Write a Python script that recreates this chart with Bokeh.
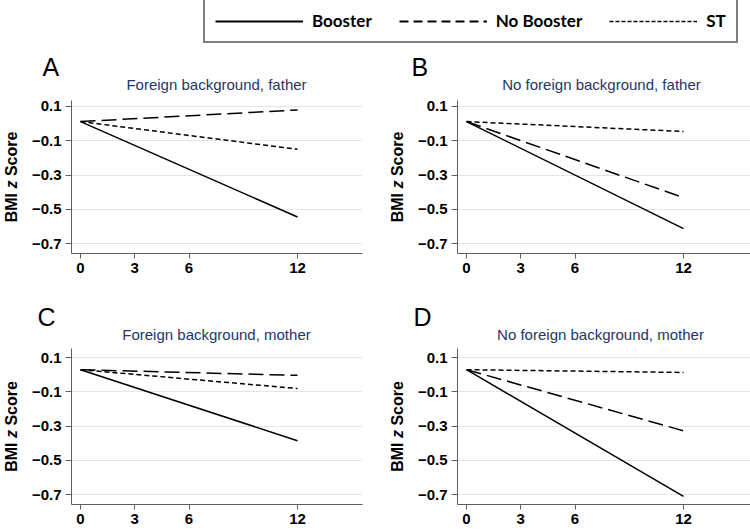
import math
from bokeh.plotting import figure
from bokeh.models import Range1d, FixedTicker, Label, Legend, LegendItem
from bokeh.layouts import column, row
from bokeh.embed import file_html
from bokeh.resources import INLINE

# ---------------- data ----------------
months = [0, 12]
x_ticks = [0, 3, 6, 12]
y_ticks = [0.1, -0.1, -0.3, -0.5, -0.7]
y_tick_labels = ["0.1", "\u22120.1", "\u22120.3", "\u22120.5", "\u22120.7"]
series_names = ["Booster", "No Booster", "ST"]

panel_letters = ["A", "B", "C", "D"]
panel_titles = [
    "Foreign background, father",
    "No foreign background, father",
    "Foreign background, mother",
    "No foreign background, mother",
]

a_booster = [0.012, -0.545]
a_no_booster = [0.012, 0.080]
a_st = [0.012, -0.150]

b_booster = [0.012, -0.613]
b_no_booster = [0.012, -0.432]
b_st = [0.012, -0.046]

c_booster = [0.030, -0.385]
c_no_booster = [0.030, -0.003]
c_st = [0.030, -0.080]

d_booster = [0.030, -0.711]
d_no_booster = [0.030, -0.327]
d_st = [0.030, 0.014]

panel_series = [
    (a_booster, a_no_booster, a_st),
    (b_booster, b_no_booster, b_st),
    (c_booster, c_no_booster, c_st),
    (d_booster, d_no_booster, d_st),
]

# ---------------- styles ----------------
AXIS_COLOR = "#5e5e5e"
GRID_COLOR = "#dfe7ec"
TITLE_COLOR = "#243668"
FONT = "Liberation Sans"
PX_PER_X = 18.08
MID = 0.3465  # distance (in em) from the text-box centre up to the baseline


def blank_fig(w, h):
    f = figure(width=w, height=h, x_range=Range1d(0, 1), y_range=Range1d(0, 1),
               output_backend="svg", toolbar_location=None, tools="", title=None,
               min_border=0, x_axis_location=None, y_axis_location=None,
               outline_line_color=None, background_fill_color="white",
               border_fill_color="white")
    f.grid.visible = False
    return f


def make_panel(idx, width, ylab_w, ylab_x, head_h, letter_x, letter_base, sub_x, sub_base,
               b_left, b_right, b_top, frame_h, b_bottom, y_lo, y_hi):
    plot_w = width - ylab_w
    frame_w = plot_w - b_left - b_right
    x_hi = -0.5 + frame_w / PX_PER_X
    plot_h = b_top + frame_h + b_bottom
    p = figure(width=plot_w, height=plot_h,
               x_range=Range1d(-0.5, x_hi), y_range=Range1d(y_lo, y_hi),
               output_backend="svg", toolbar_location=None, tools="", title=None,
               min_border_left=b_left, min_border_right=b_right,
               min_border_top=b_top, min_border_bottom=b_bottom,
               background_fill_color="white", border_fill_color="white",
               outline_line_color=None)
    for ax in (p.xaxis[0], p.yaxis[0]):
        ax.axis_line_color = AXIS_COLOR
        ax.axis_line_width = 1
        ax.major_tick_line_color = AXIS_COLOR
        ax.major_tick_in = 0
        ax.minor_tick_line_color = None
        ax.major_label_text_font = FONT
        ax.major_label_text_font_size = "15px"
        ax.major_label_text_font_style = "bold"
        ax.major_label_text_color = "black"
    p.xaxis.ticker = FixedTicker(ticks=x_ticks)
    p.xaxis.major_tick_out = 5
    p.xaxis.major_label_standoff = 4
    p.yaxis.ticker = FixedTicker(ticks=y_ticks)
    p.yaxis.major_tick_out = 6
    p.yaxis.major_label_standoff = 4
    p.yaxis.major_label_overrides = dict(zip(y_ticks, y_tick_labels))
    p.xgrid.visible = False
    p.ygrid.grid_line_color = GRID_COLOR
    p.ygrid.grid_line_width = 1

    booster, no_booster, st = panel_series[idx]
    p.line(months, booster, line_color="black", line_width=1.5)
    p.line(months, no_booster, line_color="black", line_width=1.5, line_dash="15 6")
    p.line(months, st, line_color="black", line_width=1.5, line_dash="5 3")

    # header: panel letter + subtitle (positions given as baseline distance from header bottom)
    head = blank_fig(width, head_h)
    head.add_layout(Label(x=letter_x, y=letter_base + MID * 25, x_units="screen", y_units="screen",
                          text=panel_letters[idx], text_font=FONT, text_font_size="25px",
                          text_color="black", text_baseline="middle", text_align="left"))
    head.add_layout(Label(x=sub_x, y=sub_base + MID * 15, x_units="screen", y_units="screen",
                          text=panel_titles[idx], text_font=FONT, text_font_size="15px",
                          text_color=TITLE_COLOR, text_baseline="middle", text_align="center"))

    # y axis title "BMI z Score" with italic z (its frame is aligned with the plot frame)
    ylab = blank_fig(ylab_w, plot_h)
    fs = 16
    sp = 0.278 * fs
    w1 = (0.722 + 0.833 + 0.278) * fs
    w2 = 0.5 * fs
    w3 = (0.667 + 0.556 + 0.611 + 0.389 + 0.556) * fs
    start = frame_h / 2 - (w1 + w2 + w3 + 2 * sp) / 2
    pieces = [("BMI", start, "bold"), ("z", start + w1 + sp, "bold italic"),
              ("Score", start + w1 + sp + w2 + sp, "bold")]
    for txt, yy, style in pieces:
        ylab.add_layout(Label(x=ylab_x, y=yy, x_units="screen", y_units="screen", text=txt,
                              angle=math.pi / 2, text_font=FONT, text_font_size=f"{fs}px",
                              text_font_style=style, text_color="black",
                              text_align="left", text_baseline="middle"))
    return column(head, row(ylab, p))


# row 1: header 46..94, plot figure 94..290 (frame 100..253)
pA = make_panel(0, 380, 22, 11, 48, 42, 19, 216, 5, 49, 18, 6, 153, 37, -0.758, 0.135)
pB = make_panel(1, 370, 30, 17, 48, 31, 19, 221, 5, 47, 0, 6, 153, 37, -0.758, 0.135)
# row 2: header 290..344, plot figure 344..530 (frame 348..504)
pC = make_panel(2, 380, 22, 11, 54, 37, 19, 216, 5, 49, 18, 4, 156, 26, -0.758, 0.154)
pD = make_panel(3, 370, 30, 17, 54, 33, 19, 220, 5, 47, 0, 4, 156, 26, -0.758, 0.154)

# ---------------- legend strip ----------------
leg = blank_fig(750, 46)
# proxy renderers for the legend keys, placed outside the visible range
r1 = leg.line(x=[2, 3], y=[2, 2], line_color="black", line_width=2)
r2 = leg.line(x=[2, 3], y=[2, 2], line_color="black", line_width=2, line_dash="9 5")
r3 = leg.line(x=[2, 3], y=[2, 2], line_color="black", line_width=1.5, line_dash="4 2")
legend = Legend(items=[LegendItem(label=n, renderers=[r]) for n, r in zip(series_names, [r1, r2, r3])],
                orientation="horizontal", location=(203, 3),
                border_line_color="black", border_line_width=2,
                background_fill_color="white", background_fill_alpha=1,
                padding=10, spacing=27, margin=0,
                glyph_width=88, glyph_height=20, label_height=20, label_standoff=9,
                label_text_font="Lato", label_text_font_style="bold",
                label_text_font_size="17px", label_text_color="black")
leg.add_layout(legend)

layout = column(leg, row(pA, pB), row(pC, pD))

open("out.html", "w").write(file_html(layout, INLINE))
